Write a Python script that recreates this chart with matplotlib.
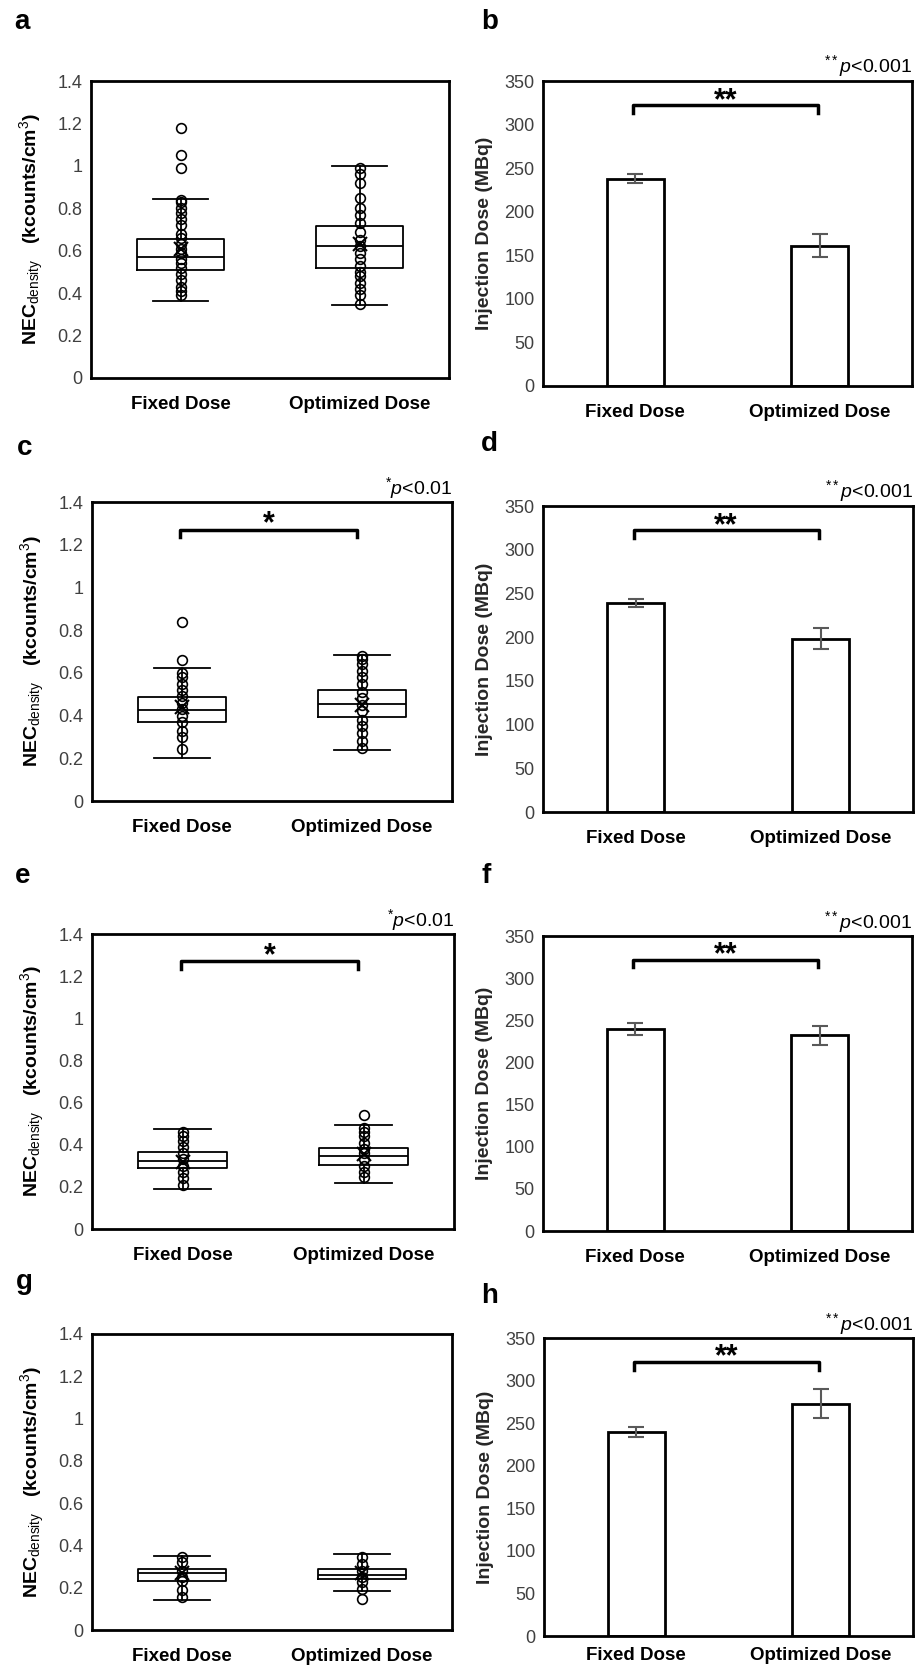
import numpy as np
import matplotlib.pyplot as plt

plt.rcParams['font.family'] = ['Liberation Sans', 'DejaVu Sans']
plt.rcParams['mathtext.fontset'] = 'custom'
plt.rcParams['mathtext.rm'] = 'Liberation Sans'
plt.rcParams['mathtext.it'] = 'Liberation Sans:italic'
plt.rcParams['mathtext.bf'] = 'Liberation Sans:bold'

groups = ['Fixed Dose', 'Optimized Dose']

# box panels (a, c, e, g): q1, median, q3, whisker low, whisker high, mean
box_a = [[0.51, 0.57, 0.655, 0.365, 0.845, 0.61], [0.52, 0.62, 0.715, 0.345, 1.0, 0.63]]
pts_a = [[0.39, 0.41, 0.43, 0.46, 0.49, 0.52, 0.54, 0.56, 0.59, 0.61, 0.63, 0.66, 0.68, 0.72, 0.75, 0.78, 0.80, 0.83, 0.84],
         [0.35, 0.39, 0.42, 0.45, 0.48, 0.50, 0.53, 0.56, 0.59, 0.62, 0.65, 0.69, 0.73, 0.77, 0.80, 0.85, 0.92, 0.96, 0.99]]
out_a = [[0.99, 1.05, 1.18], []]

box_c = [[0.37, 0.425, 0.485, 0.20, 0.625, 0.44], [0.395, 0.455, 0.52, 0.24, 0.685, 0.45]]
pts_c = [[0.245, 0.30, 0.33, 0.37, 0.40, 0.43, 0.46, 0.49, 0.52, 0.55, 0.58, 0.60],
         [0.25, 0.28, 0.32, 0.35, 0.38, 0.42, 0.45, 0.48, 0.51, 0.55, 0.58, 0.61, 0.64, 0.665, 0.68]]
out_c = [[0.66, 0.84], []]

box_e = [[0.29, 0.325, 0.365, 0.19, 0.475, 0.32], [0.305, 0.345, 0.385, 0.22, 0.495, 0.355]]
pts_e = [[0.21, 0.24, 0.27, 0.30, 0.33, 0.36, 0.39, 0.42, 0.44, 0.46],
         [0.245, 0.27, 0.30, 0.33, 0.36, 0.38, 0.41, 0.44, 0.46, 0.48]]
out_e = [[], [0.54]]

box_g = [[0.23, 0.27, 0.29, 0.14, 0.35, 0.27], [0.24, 0.26, 0.29, 0.185, 0.36, 0.27]]
pts_g = [[0.155, 0.19, 0.23, 0.25, 0.28, 0.32, 0.345],
         [0.195, 0.225, 0.25, 0.28, 0.31, 0.345]]
out_g = [[], [0.145]]

# bar panels (b, d, f, h): mean and error
dose_b = [238, 161]; err_b = [5, 13]
dose_d = [239, 198]; err_d = [5, 12]
dose_f = [240, 232]; err_f = [7, 11]
dose_h = [240, 273]; err_h = [6, 17]

W, H = 922, 1667
fig = plt.figure(figsize=(W / 100, H / 100), dpi=100)


def make_ax(x0, x1, y0, y1):
    return fig.add_axes([x0 / W, 1 - y1 / H, (x1 - x0) / W, (y1 - y0) / H])


def style(ax, xpad=13):
    for s in ax.spines.values():
        s.set_linewidth(2)
    ax.tick_params(axis='y', length=0, pad=6, labelsize=13, labelcolor='#404040')
    ax.tick_params(axis='x', length=0, pad=xpad, labelsize=13.5)
    ax.set_xticks([0, 1])
    ax.set_xticklabels(groups, fontweight='bold')
    ax.set_xlim(-0.5, 1.5)


def box_panel(ax, box, pts, outs, sig=None):
    stats = []
    for b, o in zip(box, outs):
        stats.append(dict(q1=b[0], med=b[1], q3=b[2], whislo=b[3], whishi=b[4], mean=b[5], fliers=o))
    ax.bxp(stats, positions=[0, 1], widths=0.49, showmeans=True, showfliers=True,
           boxprops=dict(color='black', lw=1.3), medianprops=dict(color='black', lw=1.3),
           whiskerprops=dict(color='black', lw=1.3), capprops=dict(color='black', lw=1.3),
           capwidths=0.31,
           meanprops=dict(marker='x', markeredgecolor='black', markersize=10, markeredgewidth=1.5),
           flierprops=dict(marker='o', markerfacecolor='white', markeredgecolor='black', markersize=7, markeredgewidth=1.2))
    for i, p in enumerate(pts):
        ax.plot([i] * len(p), p, 'o', mfc='none', mec='black', ms=7, mew=1.2, zorder=4)
    ax.set_ylim(0, 1.4)
    ax.set_yticks(np.arange(0, 1.41, 0.2))
    ax.set_yticklabels(['0', '0.2', '0.4', '0.6', '0.8', '1', '1.2', '1.4'])
    style(ax)
    ax.set_ylabel('NEC$_{\\mathrm{density}}$   (kcounts/cm$^{\\mathrm{3}}$)', fontweight='bold', fontsize=14, labelpad=8)
    if sig:
        bx = [-0.01, 0.97]
        ax.plot([bx[0], bx[0], bx[1], bx[1]], [1.235, 1.27, 1.27, 1.235], color='black', lw=2.5)
        ax.text(np.mean(bx), 1.258, sig, ha='center', va='baseline', fontsize=22, fontweight='bold')
        ax.text(1.0, 1.005, '$^{*}$$\\mathit{p}$<0.01', transform=ax.transAxes, ha='right', va='bottom', fontsize=14)


def bar_panel(ax, dose, err, xpad=13):
    ax.bar([0, 1], dose, width=0.31, color='white', edgecolor='black', linewidth=2)
    ax.errorbar([0, 1], dose, yerr=err, fmt='none', ecolor='#595959', elinewidth=1.5, capsize=6, capthick=1.5)
    ax.set_ylim(0, 350)
    ax.set_yticks(range(0, 351, 50))
    style(ax, xpad)
    ax.set_ylabel('Injection Dose (MBq)', fontweight='bold', fontsize=14, color='#262626', labelpad=8)
    ax.plot([-0.01, -0.01, 0.99, 0.99], [313, 322, 322, 313], color='black', lw=2.5)
    ax.text(0.49, 318, '**', ha='center', va='baseline', fontsize=22, fontweight='bold')
    ax.text(1.0, 1.005, '$^{**}$$\\mathit{p}$<0.001', transform=ax.transAxes, ha='right', va='bottom', fontsize=14)


ax = make_ax(91, 449, 81, 378); box_panel(ax, box_a, pts_a, out_a)
ax = make_ax(543, 912, 81, 386); bar_panel(ax, dose_b, err_b)
ax = make_ax(92, 452, 502, 801); box_panel(ax, box_c, pts_c, out_c, sig='*')
ax = make_ax(543, 913, 506, 812); bar_panel(ax, dose_d, err_d)
ax = make_ax(92, 454, 934, 1229); box_panel(ax, box_e, pts_e, out_e, sig='*')
ax = make_ax(543, 912, 936, 1231); bar_panel(ax, dose_f, err_f)
ax = make_ax(92, 452, 1334, 1630); box_panel(ax, box_g, pts_g, out_g)
ax = make_ax(544, 913, 1338, 1636); bar_panel(ax, dose_h, err_h, xpad=8)

for lab, x, y in [('a', 14, 22), ('b', 481, 22), ('c', 17, 448), ('d', 481, 444),
                  ('e', 15, 876), ('f', 481, 876), ('g', 16, 1282), ('h', 481, 1296)]:
    fig.text(x / W, 1 - y / H, lab, fontsize=20, fontweight='bold', ha='left', va='center')

fig.savefig('out.png', dpi=100)
